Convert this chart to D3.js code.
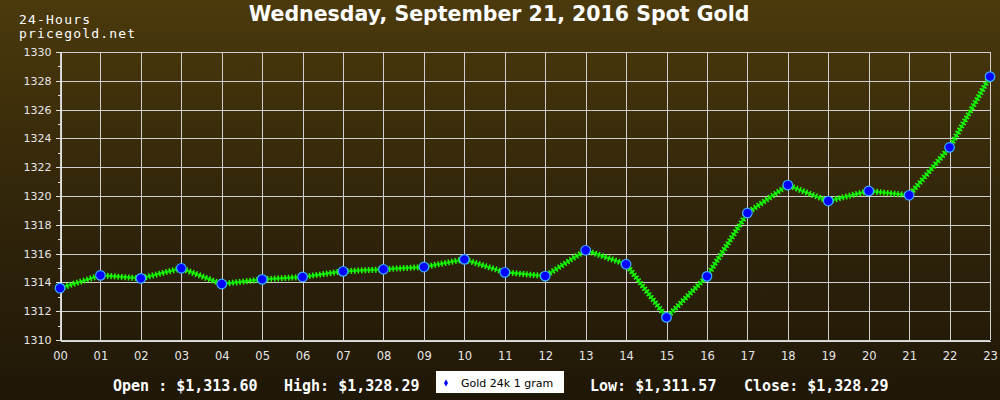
<!DOCTYPE html>
<html>
<head>
<meta charset="utf-8">
<script src="https://cdn.jsdelivr.net/npm/d3@7"></script>
<style>
html,body{margin:0;padding:0;background:#000;}
svg{display:block;}
</style>
</head>
<body>
<svg id="chart" width="1000" height="400"></svg>
<script>
const hours = ["00","01","02","03","04","05","06","07","08","09","10","11","12","13","14","15","16","17","18","19","20","21","22","23"];
const prices = [1313.60,1314.49,1314.28,1314.98,1313.89,1314.21,1314.38,1314.77,1314.91,1315.07,1315.60,1314.70,1314.44,1316.23,1315.26,1311.57,1314.42,1318.82,1320.76,1319.65,1320.35,1320.05,1323.38,1328.29];
const yTicks = [1310,1312,1314,1316,1318,1320,1322,1324,1326,1328,1330];
const yMinorTicks = [1311,1313,1315,1317,1319,1321,1323,1325,1327,1329];
const title = "Wednesday, September 21, 2016 Spot Gold";
const topLeft = ["24-Hours","pricegold.net"];
const stats = [
  {label:"Open : $1,313.60", x:113},
  {label:"High: $1,328.29", x:284},
  {label:"Low: $1,311.57", x:590},
  {label:"Close: $1,328.29", x:744}
];
const seriesName = "Gold 24k 1 gram";

const svg = d3.select("#chart");
const W = 1000, H = 400;
const m = {left:60, right:10, top:52, bottom:60};

const defs = svg.append("defs");
const grad = defs.append("linearGradient").attr("id","bg").attr("x1",0).attr("y1",0).attr("x2",0).attr("y2",1);
grad.append("stop").attr("offset","0%").attr("stop-color","#4b3a0c");
grad.append("stop").attr("offset","55%").attr("stop-color","#30240a");
grad.append("stop").attr("offset","100%").attr("stop-color","#1f1707");
svg.append("rect").attr("width",W).attr("height",H).attr("fill","url(#bg)");

const x = d3.scalePoint().domain(hours).range([m.left, W - m.right]);
const y = d3.scaleLinear().domain([1310,1330]).range([H - m.bottom, m.top]);

// grid
const grid = svg.append("g").attr("stroke","#cfcfcf").attr("stroke-width",1).attr("shape-rendering","crispEdges");
grid.selectAll("line.h").data(yTicks).join("line")
  .attr("x1",m.left).attr("x2",W - m.right)
  .attr("y1",d=>Math.round(y(d))+0.5).attr("y2",d=>Math.round(y(d))+0.5);
grid.selectAll("line.v").data(hours).join("line")
  .attr("x1",d=>Math.round(x(d))+0.5).attr("x2",d=>Math.round(x(d))+0.5)
  .attr("y1",m.top).attr("y2",H - m.bottom);

// y axis
const yAxis = d3.axisLeft(y).tickValues(yTicks).tickSize(5).tickPadding(4).tickFormat(d3.format("d"));
const ya = svg.append("g").attr("transform",`translate(${m.left+0.5},0)`).call(yAxis);
ya.select(".domain").attr("stroke","#e0e0e0");
ya.selectAll(".tick line").attr("stroke","#e0e0e0");
ya.selectAll(".tick text").attr("fill","#e6e6e6").attr("font-family","DejaVu Sans").attr("font-size",11);
ya.attr("shape-rendering","crispEdges");
const yMinor = d3.axisLeft(y).tickValues(yMinorTicks).tickSize(3).tickFormat("");
const ym = svg.append("g").attr("transform",`translate(${m.left+0.5},0)`).call(yMinor);
ym.select(".domain").remove();
ym.selectAll(".tick line").attr("stroke","#e0e0e0");
ym.attr("shape-rendering","crispEdges");

// x axis
const xAxis = d3.axisBottom(x).tickSize(0).tickPadding(11);
const xa = svg.append("g").attr("transform",`translate(0,${H - m.bottom + 0.5})`).call(xAxis);
xa.select(".domain").attr("stroke","#e0e0e0").attr("shape-rendering","crispEdges");
xa.selectAll(".tick text").attr("fill","#e6e6e6").attr("font-family","DejaVu Sans").attr("font-size",11.5);

// line
const line = d3.line().x((d,i)=>x(hours[i])).y(d=>y(d));
svg.append("path").datum(prices).attr("d",line)
  .attr("fill","none").attr("stroke","#00d400").attr("stroke-width",2.5).attr("stroke-linejoin","round");
svg.append("path").datum(prices).attr("d",line)
  .attr("fill","none").attr("stroke","#22ff00").attr("stroke-width",6).attr("stroke-dasharray","1.5,2");

// markers
svg.append("g").selectAll("circle").data(prices).join("circle")
  .attr("cx",(d,i)=>x(hours[i])).attr("cy",d=>y(d)).attr("r",4.8)
  .attr("fill","#0000ff").attr("stroke","#3ab0ff").attr("stroke-width",1.2);

// title
svg.append("text").attr("x",499).attr("y",21).attr("text-anchor","middle")
  .attr("fill","#ffffff").attr("font-family","DejaVu Sans").attr("font-weight","bold").attr("font-size",20.5)
  .text(title);

// top-left
svg.append("g").selectAll("text").data(topLeft).join("text")
  .attr("x",19).attr("y",(d,i)=>24+i*14)
  .attr("fill","#ffffff").attr("font-family","DejaVu Sans Mono").attr("font-size",13).attr("letter-spacing",1.2)
  .text(d=>d);

// stats
svg.append("g").selectAll("text").data(stats).join("text")
  .attr("x",d=>d.x).attr("y",391)
  .attr("fill","#ffffff").attr("font-family","DejaVu Sans Mono").attr("font-weight","bold").attr("font-size",15)
  .text(d=>d.label);

// legend
const lg = svg.append("g");
lg.append("rect").attr("x",436).attr("y",371).attr("width",128).attr("height",22).attr("fill","#ffffff");
lg.append("path").attr("d",d3.symbol(d3.symbolDiamond,14)()).attr("transform","translate(446,383)").attr("fill","#0000ff");
lg.append("text").attr("x",461).attr("y",386.5).attr("fill","#000").attr("font-family","DejaVu Sans").attr("font-size",11).text(seriesName);
</script>
</body>
</html>
